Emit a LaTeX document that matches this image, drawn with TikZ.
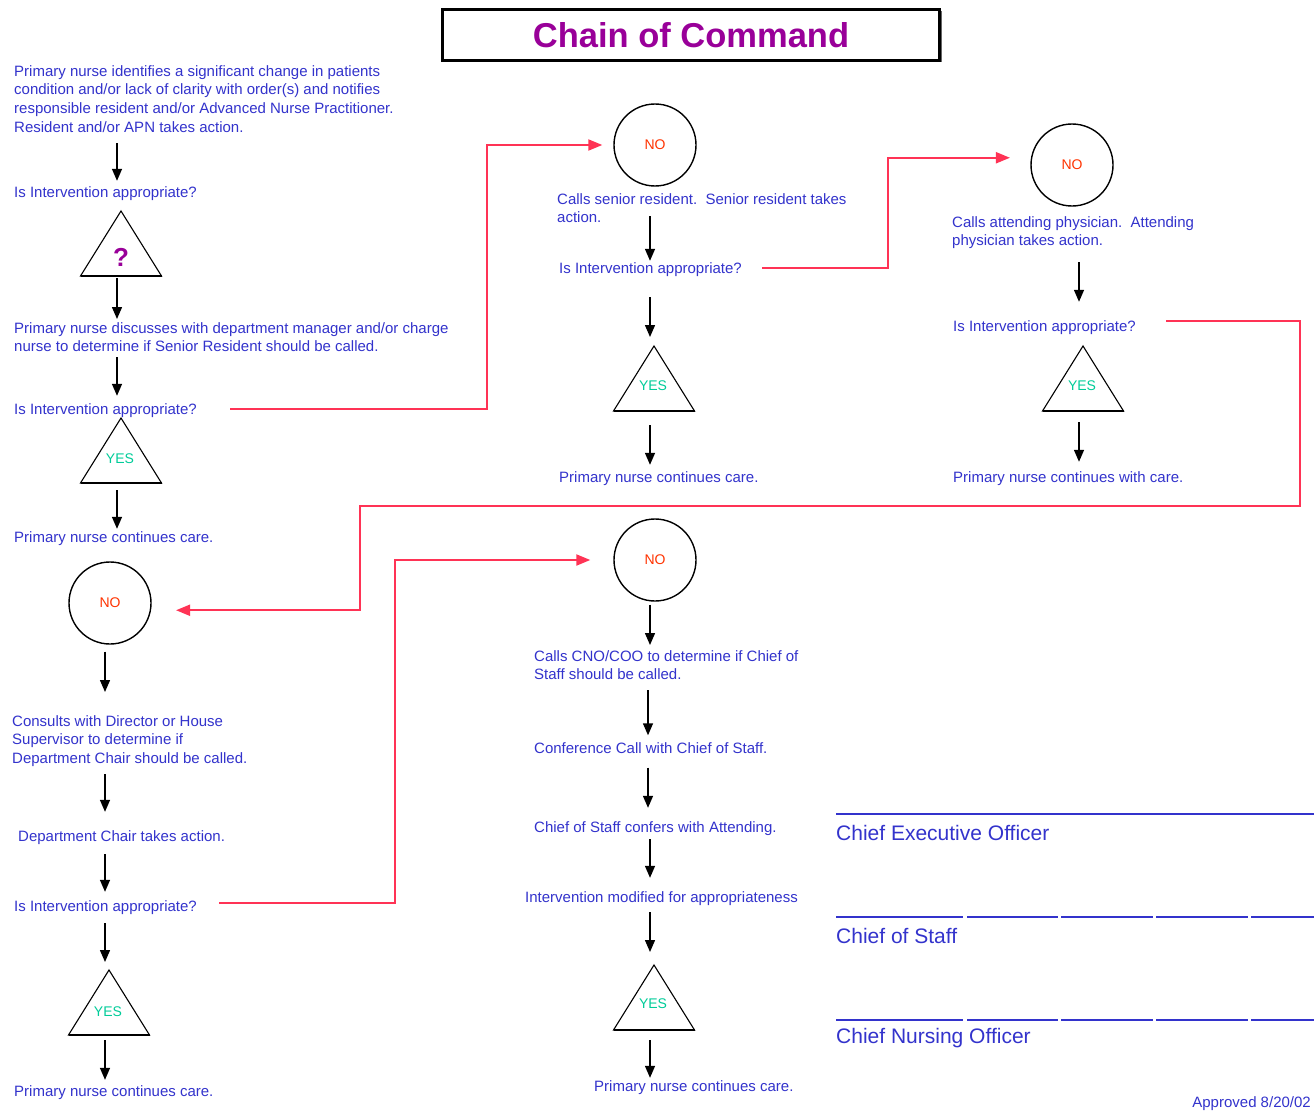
\documentclass[tikz,border=0pt]{standalone}
\usepackage{fontspec}
\setmainfont{Liberation Sans}
\usetikzlibrary{arrows.meta,positioning,calc,shadows}
\definecolor{inkblue}{HTML}{3333CC}
\definecolor{alarm}{HTML}{FF3355}
\definecolor{okgreen}{HTML}{00CC99}
\definecolor{noword}{HTML}{FF3300}
\definecolor{plum}{HTML}{990099}

\tikzset{
  steptext/.style={anchor=west,align=left,inner sep=0pt,text=inkblue,
    font=\fontsize{15}{18.9}\selectfont},
  blocktext/.style={steptext,anchor=north west},
  nocircle/.style={circle,draw=black,line width=1.4pt,minimum size=82pt,inner sep=0pt,
    text=noword,font=\fontsize{14}{14}\selectfont},
  yesword/.style={text=okgreen,font=\fontsize{14}{14}\selectfont,inner sep=0pt},
  flowarrow/.style={-{Triangle[width=10pt,length=12pt]},line width=1.4pt,black},
  escalate/.style={-{Triangle[width=11pt,length=14pt]},line width=2pt,alarm},
  signline/.style={line width=2pt,inkblue},
  signword/.style={anchor=west,inner sep=0pt,text=inkblue,font=\fontsize{21}{21}\selectfont},
  gate/.pic={
    \draw[line width=1.1pt] (0,0) -- (40.5,65) -- (-40.5,65) -- cycle;
    \draw[line width=2pt] (-40.5,65) -- (40.5,65);
    \coordinate (-apex) at (0,0);
    \coordinate (-base) at (0,65);
  }
}

\begin{document}
\begin{tikzpicture}[x=1pt,y=-1pt]
\fill[white] (0,0) rectangle (1314,1113);
\useasboundingbox (0,0) rectangle (1314,1113);

% columns of the down arrows
\coordinate (colA) at (117,0);
\coordinate (colB) at (105,0);
\coordinate (colC) at (650,0);
\coordinate (colD) at (1079,0);
\coordinate (colE) at (648,0);
% bends of the red lines
\coordinate (jA) at (487,0);
\coordinate (jB) at (888,0);
\coordinate (jC) at (1300,506);
\coordinate (jD) at (360,506);
\coordinate (jE) at (395,0);

% title
\node[draw,line width=3pt,minimum width=497pt,minimum height=51pt,fill=white,
  drop shadow={shadow xshift=2pt,shadow yshift=-2pt,fill=black!60,opacity=1},
  text=plum,font=\bfseries\fontsize{34.5}{34.5}\selectfont] (title) at (691,35) {Chain of Command};

% left column
\node[blocktext] (t1) at (14,65) {Primary nurse identifies a significant change in patients\\condition and/or lack of clarity with order(s) and notifies\\responsible resident and/or Advanced Nurse Practitioner.\\Resident and/or APN takes action.};
\node[steptext] (q1) at (14,194) {Is Intervention appropriate?};
\pic (g1) at (121,211) {gate};
\node[text=plum,font=\bfseries\fontsize{26}{26}\selectfont,inner sep=0pt] (w1) at (121,257) {?};
\node[blocktext] (t2) at (14,322) {Primary nurse discusses with department manager and/or charge\\nurse to determine if Senior Resident should be called.};
\node[steptext] (q2) at (14,411) {Is Intervention appropriate?};
\pic (g2) at (121,418) {gate};
\node[yesword] (y1) at (120,459) {YES};
\node[steptext] (c1) at (14,539) {Primary nurse continues care.};

\node[nocircle] (no4) at (110,603) {NO};
\node[blocktext] (t5) at (12,715) {Consults with Director or House\\Supervisor to determine if\\Department Chair should be called.};
\node[steptext] (t6) at (18,838) {Department Chair takes action.};
\node[steptext] (q6) at (14,908) {Is Intervention appropriate?};
\pic (g5) at (109,970) {gate};
\node[yesword] (y4) at (108,1012) {YES};
\node[steptext] (c4) at (14,1093) {Primary nurse continues care.};

% middle column, top
\node[nocircle] (no2) at (655,145) {NO};
\node[blocktext] (t3) at (557,193) {Calls senior resident.\ \ Senior resident takes\\action.};
\node[steptext] (q3) at (559,270) {Is Intervention appropriate?};
\pic (g3) at (654,346) {gate};
\node[yesword] (y2) at (653,386) {YES};
\node[steptext] (c2) at (559,479) {Primary nurse continues care.};

% right column
\node[nocircle] (no3) at (1072,165) {NO};
\node[blocktext] (t4) at (952,216) {Calls attending physician.\ \ Attending\\physician takes action.};
\node[steptext] (q4) at (953,328) {Is Intervention appropriate?};
\pic (g4) at (1083,346) {gate};
\node[yesword] (y3) at (1082,386) {YES};
\node[steptext] (c3) at (953,479) {Primary nurse continues with care.};

% middle column, bottom
\node[nocircle] (no5) at (655,560) {NO};
\node[blocktext] (t7) at (534,650) {Calls CNO/COO to determine if Chief of\\Staff should be called.};
\node[steptext] (t8) at (534,748) {Conference Call with Chief of Staff.};
\node[steptext] (t9) at (534,829) {Chief of Staff confers with Attending.};
\node[steptext] (t10) at (525,899) {Intervention modified for appropriateness};
\pic (g6) at (654,965) {gate};
\node[yesword] (y5) at (653,1004) {YES};
\node[steptext] (c5) at (594,1088) {Primary nurse continues care.};

% down arrows
\draw[flowarrow,shorten <=10pt,shorten >=6pt] (t1.south -| colA) -- (q1.north -| colA);
\draw[flowarrow,shorten <=2pt,shorten >=3pt] (g1-base -| colA) -- (t2.north -| colA);
\draw[flowarrow,shorten <=5pt,shorten >=8pt] (t2.south -| colA) -- (q2.north -| colA);
\draw[flowarrow,shorten <=7pt,shorten >=3pt] (g2-base -| colA) -- (c1.north -| colA);
\draw[flowarrow,shorten <=7pt,shorten >=23pt] (no4.south -| colB) -- (t5.north -| colB);
\draw[flowarrow,shorten <=7pt,shorten >=19pt] (t5.south -| colB) -- (t6.north -| colB);
\draw[flowarrow,shorten <=9pt,shorten >=9pt] (t6.south -| colB) -- (q6.north -| colB);
\draw[flowarrow,shorten <=8pt,shorten >=8pt] (q6.south -| colB) -- (g5-apex -| colB);
\draw[flowarrow,shorten <=5pt,shorten >=6pt] (g5-base -| colB) -- (c4.north -| colB);
\draw[flowarrow,shorten <=-7pt,shorten >=2pt] (t3.south -| colC) -- (q3.north -| colC);
\draw[flowarrow,shorten <=20pt,shorten >=9pt] (q3.south -| colC) -- (g3-apex -| colC);
\draw[flowarrow,shorten <=14pt,shorten >=7pt] (g3-base -| colC) -- (c2.north -| colC);
\draw[flowarrow,shorten <=13pt,shorten >=19pt] (t4.south -| colD) -- (q4.north -| colD);
\draw[flowarrow,shorten <=11pt,shorten >=10pt] (g4-base -| colD) -- (c3.north -| colD);
\draw[flowarrow,shorten <=3pt,shorten >=5pt] (no5.south -| colC) -- (t7.north -| colC);
\draw[flowarrow,shorten <=10pt,shorten >=7pt] (t7.south -| colE) -- (t8.north -| colE);
\draw[flowarrow,shorten <=14pt,shorten >=14pt] (t8.south -| colE) -- (t9.north -| colE);
\draw[flowarrow,shorten <=3pt,shorten >=14pt] (t9.south -| colC) -- (t10.north -| colC);
\draw[flowarrow,shorten <=6pt,shorten >=13pt] (t10.south -| colC) -- (g6-apex -| colC);
\draw[flowarrow,shorten <=10pt,shorten >=3pt] (g6-base -| colC) -- (c5.north -| colC);

% escalation lines
\draw[escalate,shorten >=11pt] ([xshift=33pt,yshift=2pt]q2.east) -| (jA |- no2.west) -- (no2.west);
\draw[escalate,shorten >=21pt] ([xshift=20pt,yshift=2pt]q3.east) -| (jB |- no3.170) -- (no3.170);
\draw[escalate,shorten >=25pt] ([xshift=30pt,yshift=7pt]q4.east) -| (jC) -| (jD |- no4.350) -- (no4.350);
\draw[escalate,shorten >=23pt] ([xshift=22pt,yshift=5pt]q6.east) -| (jE |- no5.west) -- (no5.west);

% signatures
\draw[signline] (836,814) -- (1314,814);
\foreach \a/\b in {836/963,967/1058,1061/1153,1156/1248,1251/1314} {
  \draw[signline] (\a,917) -- (\b,917);
  \draw[signline] (\a,1020) -- (\b,1020);
}
\node[signword] (ceo) at (836,833) {Chief Executive Officer};
\node[signword] (cos) at (836,936) {Chief of Staff};
\node[signword] (cno) at (836,1038) {Chief Nursing Officer};
\node[anchor=east,inner sep=0pt,text=inkblue,font=\fontsize{15}{15}\selectfont] (appr) at (1311,1104) {Approved 8/20/02};
\end{tikzpicture}
\end{document}
